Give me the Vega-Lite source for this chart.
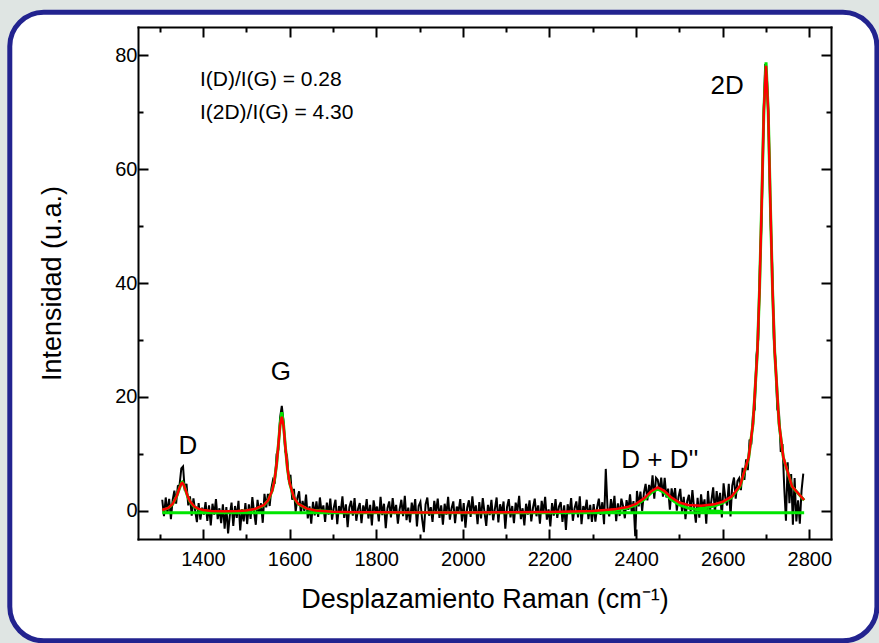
{
  "$schema": "https://vega.github.io/schema/vega-lite/v6.json",
  "width": 693,
  "height": 512,
  "autosize": {"type": "none"},
  "padding": {"left": 138, "top": 27, "right": 48, "bottom": 104},
  "background": "#dfe5e3",
  "datasets": {
    "spec": [
      {"x":1306,"y":1.9},{"x":1310,"y":-1.0},{"x":1314,"y":2.3},{"x":1318,"y":-0.45},{"x":1322,"y":2.05},{"x":1326,"y":-1.5},{"x":1330,"y":1.85},{"x":1334,"y":3.5},{"x":1338,"y":1.2},{"x":1342,"y":4.3},
      {"x":1346,"y":4.5},{"x":1350,"y":7.4},{"x":1354,"y":7.75},{"x":1358,"y":3.5},{"x":1362,"y":4.7},{"x":1366,"y":0.9},{"x":1370,"y":2.5},{"x":1374,"y":-0.9},{"x":1378,"y":2.15},{"x":1382,"y":0.0},
      {"x":1386,"y":-2.05},{"x":1390,"y":1.3},{"x":1394,"y":-1.6},{"x":1398,"y":0.5},{"x":1402,"y":-0.7},
      {"x":1406,"y":1.5},{"x":1410,"y":-1.8},{"x":1414,"y":0.9},{"x":1418,"y":-2.6},{"x":1422,"y":1.2},{"x":1426,"y":-0.7},{"x":1430,"y":2.0},{"x":1434,"y":-1.5},{"x":1438,"y":0.4},{"x":1442,"y":-2.2},
      {"x":1446,"y":1.1},{"x":1450,"y":-3.2},{"x":1454,"y":0.6},{"x":1458,"y":-4.0},{"x":1462,"y":-0.8},{"x":1466,"y":1.4},{"x":1470,"y":-2.7},{"x":1474,"y":0.8},{"x":1478,"y":-1.3},{"x":1482,"y":1.7},
      {"x":1486,"y":-3.5},{"x":1490,"y":0.2},{"x":1494,"y":-1.9},{"x":1498,"y":1.3},
      {"x":1502,"y":-2.37},{"x":1506,"y":1.08},{"x":1510,"y":-1.48},{"x":1514,"y":2.37},{"x":1518,"y":-0.28},{"x":1522,"y":-2.5},{"x":1526,"y":1.9},{"x":1530,"y":-0.58},{"x":1534,"y":1.28},{"x":1538,"y":-2.15},
      {"x":1542,"y":2.95},{"x":1546,"y":0.55},{"x":1550,"y":2.94},{"x":1554,"y":0.8},{"x":1558,"y":3.9},{"x":1562,"y":5.5},{"x":1566,"y":5.1},{"x":1570,"y":9.9},{"x":1574,"y":10.7},{"x":1578,"y":16.3},
      {"x":1582,"y":18.4},{"x":1586,"y":15.7},{"x":1590,"y":10.4},{"x":1594,"y":9.7},{"x":1598,"y":5.4},{"x":1602,"y":6.3},{"x":1606,"y":1.9},{"x":1610,"y":3.8},{"x":1614,"y":-0.2},{"x":1618,"y":2.2},
      {"x":1622,"y":3.4},{"x":1626,"y":-0.5},{"x":1630,"y":1.7},{"x":1634,"y":-0.05},{"x":1638,"y":2.82},{"x":1642,"y":-1.38},{"x":1646,"y":0.75},{"x":1650,"y":-2.32},{"x":1654,"y":1.52},{"x":1658,"y":-0.84},
      {"x":1662,"y":1.6},{"x":1666,"y":-1.1},{"x":1670,"y":2.3},{"x":1674,"y":-0.4},{"x":1678,"y":0.9},{"x":1682,"y":-2.0},{"x":1686,"y":1.4},{"x":1690,"y":-0.7},{"x":1694,"y":2.1},{"x":1698,"y":-1.6},
      {"x":1702,"y":0.5},{"x":1706,"y":1.9},{"x":1710,"y":-2.4},{"x":1714,"y":0.8},{"x":1718,"y":-0.3},{"x":1722,"y":2.5},{"x":1726,"y":-1.3},{"x":1730,"y":1.1},{"x":1734,"y":-2.9},{"x":1738,"y":0.6},
      {"x":1742,"y":1.7},{"x":1746,"y":-0.9},{"x":1750,"y":2.2},{"x":1754,"y":-1.8},{"x":1758,"y":0.3},{"x":1762,"y":1.3},{"x":1766,"y":-2.2},{"x":1770,"y":0.9},{"x":1774,"y":-0.5},{"x":1778,"y":2.0},
      {"x":1782,"y":-1.4},{"x":1786,"y":1.0},{"x":1790,"y":-2.6},{"x":1794,"y":1.8},{"x":1798,"y":-0.2},{"x":1802,"y":0.7},{"x":1806,"y":-1.9},{"x":1810,"y":2.4},{"x":1814,"y":-0.8},{"x":1818,"y":1.2},
      {"x":1822,"y":-3.1},{"x":1826,"y":0.4},{"x":1830,"y":1.6},{"x":1834,"y":-1.2},{"x":1838,"y":2.2},{"x":1842,"y":-0.6},{"x":1846,"y":1.0},{"x":1850,"y":-2.3},{"x":1854,"y":0.2},{"x":1858,"y":1.9},
      {"x":1862,"y":-1.0},{"x":1866,"y":2.6},{"x":1870,"y":-1.7},{"x":1874,"y":0.5},{"x":1878,"y":-2.1},{"x":1882,"y":1.4},{"x":1886,"y":-0.4},{"x":1890,"y":2.0},{"x":1894,"y":-2.8},{"x":1898,"y":0.8},
      {"x":1902,"y":1.5},{"x":1906,"y":-1.5},{"x":1910,"y":-3.8},{"x":1914,"y":1.1},{"x":1918,"y":2.3},{"x":1922,"y":-0.9},{"x":1926,"y":0.6},{"x":1930,"y":-2.0},{"x":1934,"y":1.7},{"x":1938,"y":-0.3},
      {"x":1942,"y":2.1},{"x":1946,"y":-1.3},{"x":1950,"y":0.9},{"x":1954,"y":-2.5},{"x":1958,"y":1.2},{"x":1962,"y":-0.7},{"x":1966,"y":2.4},{"x":1970,"y":-1.6},{"x":1974,"y":0.4},{"x":1978,"y":1.6},
      {"x":1982,"y":-2.2},{"x":1986,"y":0.7},{"x":1990,"y":-0.2},{"x":1994,"y":2.0},{"x":1998,"y":-1.9},{"x":2002,"y":1.3},{"x":2006,"y":-3.0},{"x":2010,"y":0.5},{"x":2014,"y":1.8},{"x":2018,"y":-1.1},
      {"x":2022,"y":2.5},{"x":2026,"y":-0.6},{"x":2030,"y":0.9},{"x":2034,"y":-2.4},{"x":2038,"y":1.5},{"x":2042,"y":-1.4},{"x":2046,"y":2.2},{"x":2050,"y":-0.3},{"x":2054,"y":-2.7},{"x":2058,"y":1.0},
      {"x":2062,"y":-0.8},{"x":2066,"y":1.9},{"x":2070,"y":-1.7},{"x":2074,"y":0.3},{"x":2078,"y":2.3},{"x":2082,"y":-2.1},{"x":2086,"y":1.1},{"x":2090,"y":-0.5},{"x":2094,"y":1.6},{"x":2098,"y":-3.2},
      {"x":2102,"y":0.6},{"x":2106,"y":2.0},{"x":2110,"y":-1.2},{"x":2114,"y":0.8},{"x":2118,"y":-2.2},{"x":2122,"y":1.4},{"x":2126,"y":-0.1},{"x":2130,"y":2.6},{"x":2134,"y":-1.5},{"x":2138,"y":0.4},
      {"x":2142,"y":-2.6},{"x":2146,"y":1.2},{"x":2150,"y":-0.7},{"x":2154,"y":1.8},{"x":2158,"y":-1.9},{"x":2162,"y":0.5},{"x":2166,"y":2.1},{"x":2170,"y":-1.0},{"x":2174,"y":0.9},{"x":2178,"y":-2.3},
      {"x":2182,"y":1.7},{"x":2186,"y":-0.4},{"x":2190,"y":2.4},{"x":2194,"y":-1.6},{"x":2198,"y":0.2},{"x":2202,"y":-2.8},{"x":2206,"y":1.3},{"x":2210,"y":-0.9},{"x":2214,"y":2.0},{"x":2218,"y":-1.3},
      {"x":2222,"y":0.7},{"x":2226,"y":1.5},{"x":2230,"y":-2.0},{"x":2234,"y":0.9},{"x":2238,"y":-3.4},{"x":2242,"y":1.1},{"x":2246,"y":-0.6},{"x":2250,"y":2.2},{"x":2254,"y":-1.8},{"x":2258,"y":0.4},
      {"x":2262,"y":1.6},{"x":2266,"y":-1.2},{"x":2270,"y":2.5},{"x":2274,"y":-2.4},{"x":2278,"y":0.8},{"x":2282,"y":-0.2},{"x":2286,"y":1.9},{"x":2290,"y":-1.5},{"x":2294,"y":1.0},{"x":2298,"y":-2.0},
      {"x":2302,"y":1.13},{"x":2306,"y":-1.95},{"x":2310,"y":0.58},{"x":2314,"y":2.1},{"x":2318,"y":-0.77},{"x":2322,"y":1.46},{"x":2326,"y":-2.41},{"x":2330,"y":7.32},{"x":2334,"y":0.45},{"x":2338,"y":-1.02},
      {"x":2342,"y":2.0},{"x":2346,"y":-0.35},{"x":2350,"y":2.6},{"x":2354,"y":-1.86},{"x":2358,"y":1.28},{"x":2362,"y":-0.96},{"x":2366,"y":2.1},{"x":2370,"y":0.76},{"x":2374,"y":-1.35},{"x":2378,"y":1.83},
      {"x":2382,"y":0.12},{"x":2386,"y":2.83},{"x":2390,"y":-0.46},{"x":2394,"y":1.66},{"x":2398,"y":-4.5},{"x":2402,"y":3.45},{"x":2406,"y":0.75},{"x":2410,"y":3.35},{"x":2414,"y":-0.05},{"x":2418,"y":3.1},
      {"x":2422,"y":4.7},{"x":2426,"y":1.8},{"x":2430,"y":4.5},{"x":2434,"y":3.0},{"x":2438,"y":6.2},{"x":2442,"y":2.1},{"x":2446,"y":5.75},{"x":2450,"y":5.38},{"x":2454,"y":3.45},{"x":2458,"y":5.8},
      {"x":2462,"y":2.45},{"x":2466,"y":5.75},{"x":2470,"y":2.3},{"x":2474,"y":3.85},{"x":2478,"y":0.15},{"x":2482,"y":3.9},{"x":2486,"y":1.8},{"x":2490,"y":3.95},{"x":2494,"y":0.0},{"x":2498,"y":2.4},
      {"x":2502,"y":3.8},{"x":2506,"y":-0.2},{"x":2510,"y":2.4},{"x":2514,"y":-1.5},{"x":2518,"y":1.63},{"x":2522,"y":2.77},{"x":2526,"y":-0.17},{"x":2530,"y":3.6},{"x":2534,"y":0.37},{"x":2538,"y":-2.14},
      {"x":2542,"y":2.25},{"x":2546,"y":-1.26},{"x":2550,"y":2.84},{"x":2554,"y":0.16},{"x":2558,"y":1.98},{"x":2562,"y":-2.29},{"x":2566,"y":3.45},{"x":2570,"y":-0.31},{"x":2574,"y":1.83},{"x":2578,"y":4.08},
      {"x":2582,"y":-0.45},{"x":2586,"y":3.42},{"x":2590,"y":0.9},{"x":2594,"y":3.1},{"x":2598,"y":-1.2},{"x":2602,"y":4.8},{"x":2606,"y":2.25},{"x":2610,"y":0.9},{"x":2614,"y":4.7},{"x":2618,"y":-1.05},
      {"x":2622,"y":4.4},{"x":2626,"y":5.8},{"x":2630,"y":2.1},{"x":2634,"y":5.2},
      {"x":2638,"y":5.7},{"x":2642,"y":3.6},{"x":2646,"y":7.5},{"x":2650,"y":5.4},{"x":2654,"y":9.0},{"x":2658,"y":7.1},{"x":2662,"y":12.5},{"x":2666,"y":11.6},{"x":2670,"y":17.0},{"x":2674,"y":17.8},
      {"x":2678,"y":27.3},{"x":2682,"y":30.1},{"x":2686,"y":43.2},{"x":2690,"y":51.8},{"x":2694,"y":68.3},{"x":2698,"y":78.5},{"x":2702,"y":76.0},{"x":2706,"y":68.3},{"x":2710,"y":52.2},{"x":2714,"y":43.4},
      {"x":2718,"y":30.2},{"x":2722,"y":26.2},{"x":2726,"y":17.8},{"x":2730,"y":17.1},{"x":2734,"y":10.3},{"x":2738,"y":11.7},{"x":2742,"y":4.1},{"x":2746,"y":-1.8},{"x":2750,"y":8.5},{"x":2754,"y":1.3},
      {"x":2758,"y":6.4},{"x":2762,"y":-2.5},{"x":2766,"y":5.7},{"x":2770,"y":-1.9},{"x":2774,"y":1.8},{"x":2778,"y":-2.3},{"x":2782,"y":3.5},{"x":2786,"y":6.5}
    ],
    "fit": [
      {"x":1306,"y":0.09},{"x":1320,"y":0.48},{"x":1330,"y":1.15},{"x":1340,"y":2.65},{"x":1345,"y":3.82},{"x":1350,"y":4.76},{"x":1352,"y":4.86},{"x":1355,"y":4.63},{"x":1360,"y":3.58},{"x":1365,"y":2.46},
      {"x":1370,"y":1.63},{"x":1380,"y":0.71},{"x":1390,"y":0.3},{"x":1400,"y":0.1},{"x":1420,"y":-0.08},{"x":1450,"y":-0.14},{"x":1480,"y":-0.09},{"x":1500,"y":0.02},{"x":1520,"y":0.27},{"x":1540,"y":0.93},
      {"x":1550,"y":1.74},{"x":1560,"y":3.54},{"x":1565,"y":5.29},{"x":1570,"y":8.14},{"x":1575,"y":12.33},{"x":1578,"y":14.94},{"x":1582,"y":16.5},{"x":1586,"y":14.94},{"x":1590,"y":11.41},{"x":1595,"y":7.46},
      {"x":1600,"y":4.87},{"x":1610,"y":2.28},{"x":1620,"y":1.18},{"x":1640,"y":0.34},{"x":1660,"y":0.03},{"x":1700,"y":-0.19},{"x":1750,"y":-0.28},{"x":1800,"y":-0.31},{"x":1900,"y":-0.33},{"x":2000,"y":-0.32},
      {"x":2100,"y":-0.3},{"x":2200,"y":-0.24},{"x":2300,"y":-0.07},{"x":2350,"y":0.21},{"x":2380,"y":0.61},{"x":2400,"y":1.18},{"x":2420,"y":2.25},{"x":2435,"y":3.4},{"x":2450,"y":4.08},{"x":2465,"y":3.47},
      {"x":2480,"y":2.38},{"x":2500,"y":1.42},{"x":2520,"y":0.98},{"x":2550,"y":0.84},{"x":2580,"y":1.09},{"x":2600,"y":1.55},{"x":2620,"y":2.44},{"x":2640,"y":4.36},{"x":2660,"y":9.39},{"x":2670,"y":15.4},
      {"x":2680,"y":27.96},{"x":2685,"y":38.94},{"x":2690,"y":54.04},{"x":2695,"y":70.34},{"x":2700,"y":78.18},{"x":2705,"y":70.33},{"x":2710,"y":54.02},{"x":2715,"y":38.92},{"x":2720,"y":27.93},{"x":2730,"y":15.37},
      {"x":2740,"y":9.34},{"x":2760,"y":4.27},{"x":2788,"y":1.86}
    ],
    "comp": [
      {"x":1306,"y":-0.4,"c":"base"},{"x":2788,"y":-0.4,"c":"base"},
      {"x":1306,"y":0.04,"c":"D"},{"x":1320,"y":0.44,"c":"D"},{"x":1330,"y":1.1,"c":"D"},{"x":1340,"y":2.6,"c":"D"},{"x":1345,"y":3.76,"c":"D"},{"x":1350,"y":4.85,"c":"D"},{"x":1352,"y":5.0,"c":"D"},{"x":1355,"y":4.7,"c":"D"},
      {"x":1360,"y":3.52,"c":"D"},{"x":1365,"y":2.39,"c":"D"},{"x":1370,"y":1.56,"c":"D"},{"x":1380,"y":0.64,"c":"D"},{"x":1390,"y":0.22,"c":"D"},{"x":1400,"y":0.01,"c":"D"},{"x":1420,"y":-0.19,"c":"D"},{"x":1450,"y":-0.3,"c":"D"},
      {"x":1480,"y":-0.17,"c":"G"},{"x":1500,"y":-0.04,"c":"G"},{"x":1520,"y":0.21,"c":"G"},{"x":1540,"y":0.88,"c":"G"},{"x":1550,"y":1.7,"c":"G"},{"x":1560,"y":3.5,"c":"G"},{"x":1565,"y":5.25,"c":"G"},{"x":1570,"y":8.1,"c":"G"},
      {"x":1575,"y":12.3,"c":"G"},{"x":1578,"y":15.1,"c":"G"},{"x":1582,"y":17.3,"c":"G"},{"x":1586,"y":15.1,"c":"G"},{"x":1590,"y":11.4,"c":"G"},{"x":1595,"y":7.4,"c":"G"},{"x":1600,"y":4.83,"c":"G"},{"x":1610,"y":2.24,"c":"G"},
      {"x":1620,"y":1.14,"c":"G"},{"x":1640,"y":0.3,"c":"G"},{"x":1660,"y":-0.01,"c":"G"},{"x":1700,"y":-0.23,"c":"G"},
      {"x":2300,"y":-0.18,"c":"DD"},{"x":2350,"y":0.06,"c":"DD"},{"x":2380,"y":0.44,"c":"DD"},{"x":2400,"y":0.98,"c":"DD"},{"x":2420,"y":2.02,"c":"DD"},{"x":2435,"y":3.15,"c":"DD"},{"x":2450,"y":3.8,"c":"DD"},
      {"x":2465,"y":3.15,"c":"DD"},{"x":2480,"y":2.02,"c":"DD"},{"x":2500,"y":0.98,"c":"DD"},{"x":2520,"y":0.44,"c":"DD"},{"x":2550,"y":0.06,"c":"DD"},{"x":2600,"y":-0.18,"c":"DD"},
      {"x":2540,"y":0.29,"c":"2D"},{"x":2560,"y":0.49,"c":"2D"},{"x":2580,"y":0.81,"c":"2D"},{"x":2600,"y":1.33,"c":"2D"},{"x":2620,"y":2.27,"c":"2D"},{"x":2640,"y":4.22,"c":"2D"},{"x":2660,"y":9.28,"c":"2D"},
      {"x":2670,"y":15.3,"c":"2D"},{"x":2680,"y":27.9,"c":"2D"},{"x":2685,"y":38.9,"c":"2D"},{"x":2690,"y":54.0,"c":"2D"},{"x":2695,"y":70.3,"c":"2D"},{"x":2700,"y":78.8,"c":"2D"},{"x":2705,"y":70.3,"c":"2D"},
      {"x":2710,"y":54.0,"c":"2D"},{"x":2715,"y":38.9,"c":"2D"},{"x":2720,"y":27.9,"c":"2D"},{"x":2730,"y":15.3,"c":"2D"},{"x":2740,"y":9.28,"c":"2D"},{"x":2760,"y":4.22,"c":"2D"},{"x":2788,"y":1.82,"c":"2D"}
    ],
    "ratios": [
      {"x":1393,"y":75.7,"label":"I(D)/I(G) = 0.28"},
      {"x":1393,"y":69.9,"label":"I(2D)/I(G) = 4.30"}
    ],
    "peaks": [
      {"x":1365,"y":11.3,"label":"D"},
      {"x":1580,"y":24.4,"label":"G"},
      {"x":2455,"y":8.9,"label":"D + D''"},
      {"x":2610,"y":74.6,"label":"2D"}
    ]
  },
  "resolve": {"axis": {"x": "independent", "y": "independent"}},
  "layer": [
    {
      "data": {"values": [{}]},
      "mark": {"type": "rect", "fill": "white", "stroke": "#22238f", "strokeWidth": 5, "cornerRadius": 34},
      "encoding": {
        "x": {"datum": 954, "type": "quantitative", "scale": {"domain": [1250, 2850], "nice": false, "zero": false}, "axis": null},
        "x2": {"datum": 2956},
        "y": {"datum": 87.6, "type": "quantitative", "scale": {"domain": [-5, 85], "nice": false, "zero": false}, "axis": null},
        "y2": {"datum": -22.9}
      }
    },
    {
      "data": {"name": "spec"},
      "mark": {"type": "line", "color": "black", "strokeWidth": 2},
      "encoding": {
        "x": {"field": "x", "type": "quantitative", "scale": {"domain": [1250, 2850], "nice": false, "zero": false},
              "axis": {"orient": "bottom", "zindex": 2, "values": [1400,1600,1800,2000,2200,2400,2600,2800], "tickSize": -10, "format": "d", "labelPadding": 20, "titlePadding": 17, "title": "Desplazamiento Raman (cm⁻¹)"}},
        "y": {"field": "y", "type": "quantitative", "scale": {"domain": [-5, 85], "nice": false, "zero": false},
              "axis": {"orient": "left", "zindex": 2, "values": [0,20,40,60,80], "tickSize": -10, "format": "d", "labelPadding": 11, "titlePadding": 48, "title": "Intensidad (u.a.)"}}
      }
    },
    {
      "data": {"name": "comp"},
      "mark": {"type": "line", "color": "#00e600", "strokeWidth": 3},
      "encoding": {
        "detail": {"field": "c"},
        "x": {"field": "x", "type": "quantitative",
              "axis": {"orient": "bottom", "zindex": 2, "values": [1300,1500,1700,1900,2100,2300,2500,2700], "tickSize": -5, "labels": false, "domain": false, "title": null}},
        "y": {"field": "y", "type": "quantitative",
              "axis": {"orient": "left", "zindex": 2, "values": [10,30,50,70], "tickSize": -5, "labels": false, "domain": false, "title": null}}
      }
    },
    {
      "data": {"name": "fit"},
      "mark": {"type": "line", "color": "#ff0000", "strokeWidth": 2.5},
      "encoding": {
        "x": {"field": "x", "type": "quantitative",
              "axis": {"orient": "top", "zindex": 2, "values": [1400,1600,1800,2000,2200,2400,2600,2800], "tickSize": -10, "labels": false, "title": null}},
        "y": {"field": "y", "type": "quantitative",
              "axis": {"orient": "right", "zindex": 2, "values": [0,20,40,60,80], "tickSize": -10, "labels": false, "title": null}}
      }
    },
    {
      "data": {"name": "ratios"},
      "mark": {"type": "text", "align": "left", "baseline": "middle", "font": "Liberation Sans", "fontSize": 21, "color": "black"},
      "encoding": {
        "text": {"field": "label"},
        "x": {"field": "x", "type": "quantitative",
              "axis": {"orient": "top", "zindex": 2, "values": [1300,1500,1700,1900,2100,2300,2500,2700], "tickSize": -5, "labels": false, "domain": false, "title": null}},
        "y": {"field": "y", "type": "quantitative",
              "axis": {"orient": "right", "zindex": 2, "values": [10,30,50,70], "tickSize": -5, "labels": false, "domain": false, "title": null}}
      }
    },
    {
      "data": {"name": "peaks"},
      "mark": {"type": "text", "align": "center", "baseline": "middle", "font": "Liberation Sans", "fontSize": 26, "color": "black"},
      "encoding": {
        "text": {"field": "label"},
        "x": {"field": "x", "type": "quantitative", "axis": null},
        "y": {"field": "y", "type": "quantitative", "axis": null}
      }
    }
  ],
  "config": {
    "view": {"stroke": null},
    "axis": {
      "grid": false,
      "tickColor": "black",
      "tickWidth": 2,
      "domainColor": "black",
      "domainWidth": 2,
      "domainCap": "square",
      "labelFont": "Liberation Sans",
      "labelFontSize": 20,
      "labelColor": "black",
      "titleFont": "Liberation Sans",
      "titleFontSize": 27,
      "titleFontWeight": "normal",
      "titleColor": "black"
    }
  }
}
